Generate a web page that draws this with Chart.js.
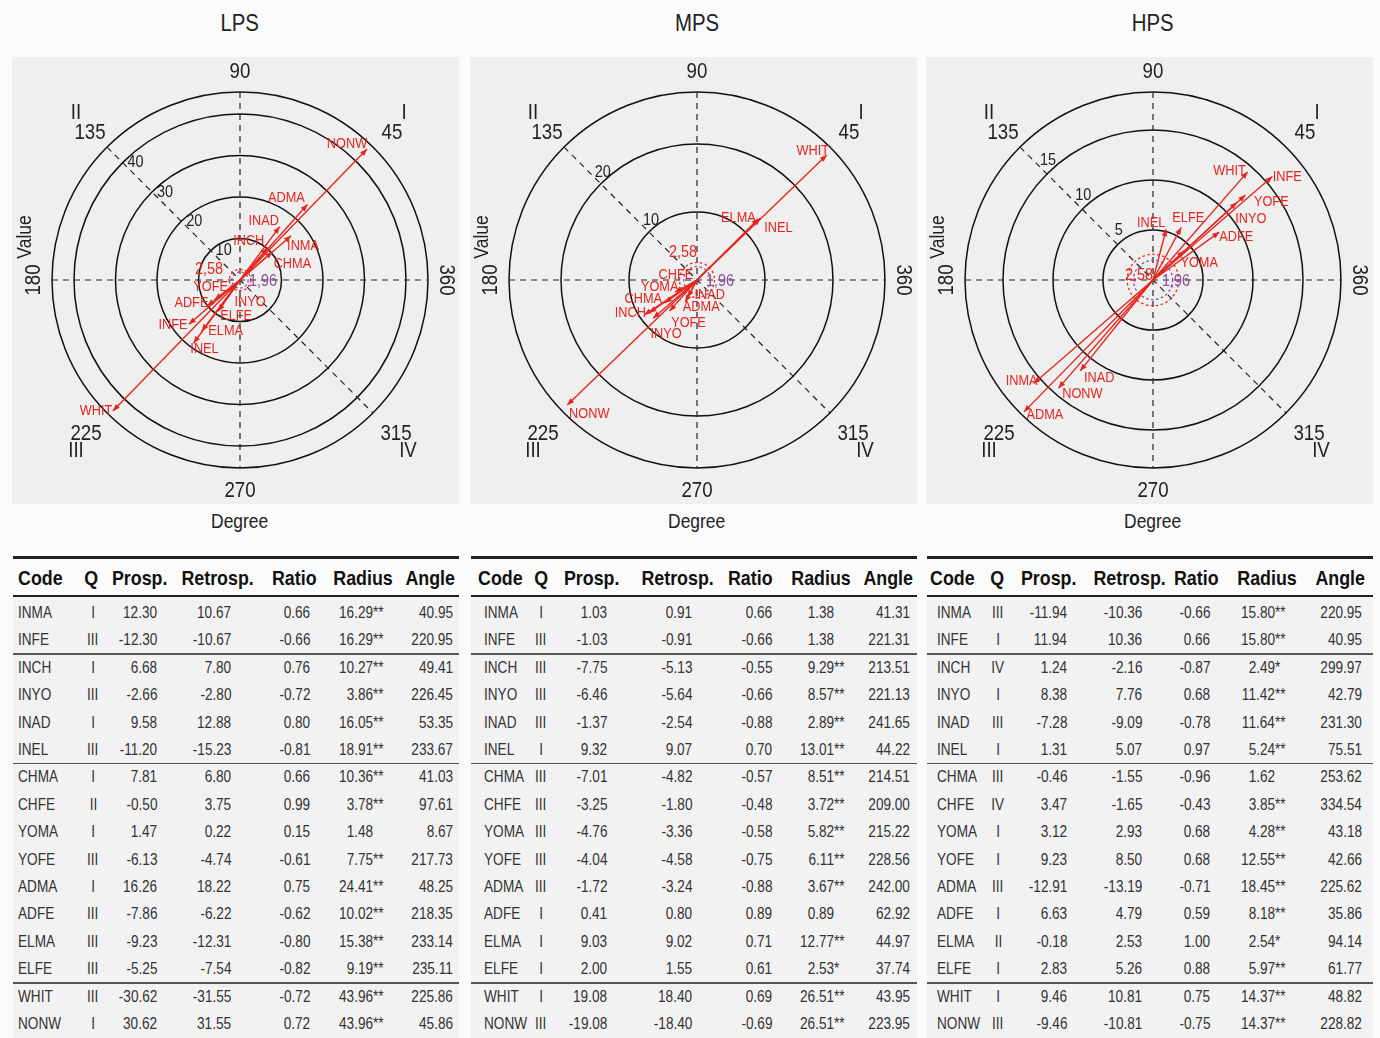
<!DOCTYPE html>
<html>
<head>
<meta charset="utf-8">
<script src="https://cdn.jsdelivr.net/npm/chart.js@4.4.1/dist/chart.umd.min.js"></script>
<style>
  html, body { margin: 0; padding: 0; background: #fbfbfb; }
  body { width: 1380px; height: 1038px; position: relative; overflow: hidden;
         font-family: 'Liberation Sans', Arial, sans-serif; color: #222; }
  .panel { position: absolute; top: 57px; width: 447px; height: 447px; background: #efefef; }
  .panel canvas { display: block; }
  .title { position: absolute; top: 9px; font-size: 24px; width: 200px; margin-left: -100px; text-align: center; }
  .xlab { position: absolute; top: 509px; font-size: 20.5px; width: 200px; margin-left: -100px; text-align: center; }
  .cell { position: absolute; height: 22px; line-height: 22px; white-space: nowrap; font-size: 16px; color: #333; }
  .hdr { font-weight: bold; font-size: 21px; color: #111; height: 26px; line-height: 26px; }
  .narrow { display: inline-block; transform: scaleX(0.85); }
  .rule { position: absolute; background: #222; }
  .band { position: absolute; background: #f2f2f2; }
</style>
</head>
<body>
<script>
// Row codes shared by the three tables
const codes = ['INMA','INFE','INCH','INYO','INAD','INEL','CHMA','CHFE','YOMA','YOFE','ADMA','ADFE','ELMA','ELFE','WHIT','NONW'];

// LPS
const lpsQuadrant = ['I','III','I','III','I','III','I','II','I','III','I','III','III','III','III','I'];
const lpsProsp    = [12.30,-12.30,6.68,-2.66,9.58,-11.20,7.81,-0.50,1.47,-6.13,16.26,-7.86,-9.23,-5.25,-30.62,30.62];
const lpsRetrosp  = [10.67,-10.67,7.80,-2.80,12.88,-15.23,6.80,3.75,0.22,-4.74,18.22,-6.22,-12.31,-7.54,-31.55,31.55];
const lpsRatio    = [0.66,-0.66,0.76,-0.72,0.80,-0.81,0.66,0.99,0.15,-0.61,0.75,-0.62,-0.80,-0.82,-0.72,0.72];
const lpsRadius   = [16.29,16.29,10.27,3.86,16.05,18.91,10.36,3.78,1.48,7.75,24.41,10.02,15.38,9.19,43.96,43.96];
const lpsAngle    = [40.95,220.95,49.41,226.45,53.35,233.67,41.03,97.61,8.67,217.73,48.25,218.35,233.14,235.11,225.86,45.86];
const lpsRings    = [10, 20, 30, 40];
const lpsLimit    = 45.3;

// MPS
const mpsQuadrant = ['I','III','III','III','III','I','III','III','III','III','III','I','I','I','I','III'];
const mpsProsp    = [1.03,-1.03,-7.75,-6.46,-1.37,9.32,-7.01,-3.25,-4.76,-4.04,-1.72,0.41,9.03,2.00,19.08,-19.08];
const mpsRetrosp  = [0.91,-0.91,-5.13,-5.64,-2.54,9.07,-4.82,-1.80,-3.36,-4.58,-3.24,0.80,9.02,1.55,18.40,-18.40];
const mpsRatio    = [0.66,-0.66,-0.55,-0.66,-0.88,0.70,-0.57,-0.48,-0.58,-0.75,-0.88,0.89,0.71,0.61,0.69,-0.69];
const mpsRadius   = [1.38,1.38,9.29,8.57,2.89,13.01,8.51,3.72,5.82,6.11,3.67,0.89,12.77,2.53,26.51,26.51];
const mpsAngle    = [41.31,221.31,213.51,221.13,241.65,44.22,214.51,209.00,215.22,228.56,242.00,62.92,44.97,37.74,43.95,223.95];
const mpsRings    = [10, 20];
const mpsLimit    = 27.65;

// HPS
const hpsQuadrant = ['III','I','IV','I','III','I','III','IV','I','I','III','I','II','I','I','III'];
const hpsProsp    = [-11.94,11.94,1.24,8.38,-7.28,1.31,-0.46,3.47,3.12,9.23,-12.91,6.63,-0.18,2.83,9.46,-9.46];
const hpsRetrosp  = [-10.36,10.36,-2.16,7.76,-9.09,5.07,-1.55,-1.65,2.93,8.50,-13.19,4.79,2.53,5.26,10.81,-10.81];
const hpsRatio    = [-0.66,0.66,-0.87,0.68,-0.78,0.97,-0.96,-0.43,0.68,0.68,-0.71,0.59,1.00,0.88,0.75,-0.75];
const hpsRadius   = [15.80,15.80,2.49,11.42,11.64,5.24,1.62,3.85,4.28,12.55,18.45,8.18,2.54,5.97,14.37,14.37];
const hpsAngle    = [220.95,40.95,299.97,42.79,231.30,75.51,253.62,334.54,43.18,42.66,225.62,35.86,94.14,61.77,48.82,228.82];
const hpsRings    = [5, 10, 15];
const hpsLimit    = 18.8;

// Significance thresholds (z values)
const zStrong = 2.58;
const zWeak = 1.96;

// Label nudges (px) from each arrow tip
const lpsNudge = {INMA:[12,10],INFE:[-16,1],INCH:[-19,-7],INYO:[21,10],INAD:[-16,-6],INEL:[11,6],CHMA:[20,12],
  YOFE:[-4,-13],ADMA:[-21,-7],ADFE:[-16,-3],ELMA:[24,0],ELFE:[18,5],WHIT:[-17,0],NONW:[-20,-5]};
const mpsNudge = {INCH:[-14,-2],INYO:[13,16],INAD:[22,-2],INEL:[18,10],CHMA:[-6,-14],CHFE:[1,-17],YOMA:[-5,-16],
  YOFE:[19,12],ADMA:[16,5],ELMA:[-20,-1],WHIT:[-14,-4],NONW:[22,9]};
const hpsNudge = {INMA:[-12,-3],INFE:[15,0],INYO:[14,16],INAD:[19,7],INEL:[-15,-6],YOMA:[15,12],YOFE:[26,7],
  ADMA:[21,3],ADFE:[17,5],ELFE:[7,-10],WHIT:[-18,-1],NONW:[24,6]};

const RED = '#e5261f';
const PURPLE = '#8a4f9e';
const FONT = "'Liberation Sans', Arial, sans-serif";
const SQUEEZE = 0.85;

// condensed text on the canvas
function narrowText(ctx, text, x, y, rot) {
  ctx.save();
  ctx.translate(x, y);
  if (rot) ctx.rotate(rot);
  ctx.scale(SQUEEZE, 1);
  ctx.fillText(text, 0, 0);
  ctx.restore();
}

const panels = [
  {name:'LPS', left:12, cxPage:240, q:lpsQuadrant, prosp:lpsProsp, retro:lpsRetrosp, ratio:lpsRatio, radius:lpsRadius, angle:lpsAngle,
   rings:lpsRings, limit:lpsLimit, nudge:lpsNudge, padLeft:28, ringLab:[13,0], z258:[-31,-11],
   hdr:[['l',18],['c',91],['c',140],['c',218],['c',294],['c',363],['c',430]],
   val:[['l',18],['c',93],['r',157],['r',231],['r',310],['r',373],['r',453]]},
  {name:'MPS', left:470, cxPage:697, q:mpsQuadrant, prosp:mpsProsp, retro:mpsRetrosp, ratio:mpsRatio, radius:mpsRadius, angle:mpsAngle,
   rings:mpsRings, limit:mpsLimit, nudge:mpsNudge, padLeft:27, ringLab:[2,-12], z258:[-14,-28],
   hdr:[['l',478],['c',541],['c',592],['c',678],['c',750],['c',821],['c',888]],
   val:[['l',484],['c',541],['r',607],['r',692],['r',772],['r',834],['r',910]]},
  {name:'HPS', left:926, cxPage:1153, q:hpsQuadrant, prosp:hpsProsp, retro:hpsRetrosp, ratio:hpsRatio, radius:hpsRadius, angle:hpsAngle,
   rings:hpsRings, limit:hpsLimit, nudge:hpsNudge, padLeft:27, ringLab:[1,-14], z258:[-14,-5],
   hdr:[['l',930],['c',997],['c',1049],['c',1130],['c',1196],['c',1267],['c',1340]],
   val:[['l',937],['c',998],['r',1067],['r',1142],['r',1210],['r',1275],['r',1362]]}
];

// Grid, axes, labels and arrowheads of the polar vector plot
const polarFrame = {
  id: 'polarFrame',
  beforeDatasetsDraw(chart, args, o) {
    const {ctx, scales: {x, y}} = chart;
    const cx = x.getPixelForValue(0), cy = y.getPixelForValue(0);
    const rp = v => x.getPixelForValue(v) - cx;
    const R = rp(o.limit);
    const d = R / Math.SQRT2;
    ctx.save();
    // solid rings
    ctx.strokeStyle = '#111'; ctx.lineWidth = 1.5;
    o.rings.concat([o.limit]).forEach(v => {
      ctx.beginPath(); ctx.arc(cx, cy, rp(v), 0, Math.PI * 2); ctx.stroke();
    });
    // dashed reference axes
    ctx.setLineDash([6, 5]); ctx.lineWidth = 1.2; ctx.strokeStyle = '#222';
    [[cx - R, cy, cx + R, cy], [cx, cy - R, cx, cy + R], [cx - d, cy - d, cx + d, cy + d]].forEach(s => {
      ctx.beginPath(); ctx.moveTo(s[0], s[1]); ctx.lineTo(s[2], s[3]); ctx.stroke();
    });
    // significance circles
    ctx.setLineDash([2.5, 2.5]); ctx.lineWidth = 1.3;
    ctx.strokeStyle = RED;
    ctx.beginPath(); ctx.arc(cx, cy, rp(zStrong), 0, Math.PI * 2); ctx.stroke();
    ctx.strokeStyle = PURPLE;
    ctx.beginPath(); ctx.arc(cx, cy, rp(zWeak), 0, Math.PI * 2); ctx.stroke();
    ctx.setLineDash([]);
    // ring values along the 135 degree diagonal
    ctx.fillStyle = '#222'; ctx.textAlign = 'center'; ctx.textBaseline = 'middle';
    ctx.font = '17px ' + FONT;
    o.rings.forEach(v => {
      const k = rp(v) / Math.SQRT2;
      narrowText(ctx, String(v), cx - k + o.ringLab[0], cy - k + o.ringLab[1]);
    });
    // angle and quadrant labels
    ctx.font = '22px ' + FONT;
    const marks = [['90',0,-208],['270',0,211],['135',-150,-147],['45',152,-147],['225',-154,154],['315',156,154],
                   ['II',-164,-167],['I',164,-167],['III',-164,171],['IV',168,171]];
    marks.forEach(m => narrowText(ctx, m[0], cx + m[1], cy + m[2]));
    narrowText(ctx, '180', cx - 206, cy, -Math.PI / 2);
    narrowText(ctx, '360', cx + 206, cy, Math.PI / 2);
    ctx.font = '20.5px ' + FONT;
    narrowText(ctx, 'Value', cx - 215, cy - 43, -Math.PI / 2);
    // threshold labels
    ctx.font = '17px ' + FONT;
    ctx.fillStyle = RED; narrowText(ctx, '2,58', cx + o.z258[0], cy + o.z258[1]);
    ctx.fillStyle = PURPLE; narrowText(ctx, '1,96', cx + 23, cy + 1);
    ctx.restore();
  },
  afterDatasetsDraw(chart, args, o) {
    const {ctx, scales: {x, y}} = chart;
    const cx = x.getPixelForValue(0), cy = y.getPixelForValue(0);
    ctx.save();
    ctx.fillStyle = RED; ctx.font = '15px ' + FONT; ctx.textAlign = 'center'; ctx.textBaseline = 'middle';
    chart.data.datasets.forEach((ds, i) => {
      const tip = chart.getDatasetMeta(i).data[1];
      const a = Math.atan2(tip.y - cy, tip.x - cx);
      const L = 7, W = 2.8;
      ctx.beginPath();
      ctx.moveTo(tip.x, tip.y);
      ctx.lineTo(tip.x - L * Math.cos(a) + W * Math.sin(a), tip.y - L * Math.sin(a) - W * Math.cos(a));
      ctx.lineTo(tip.x - L * Math.cos(a) - W * Math.sin(a), tip.y - L * Math.sin(a) + W * Math.cos(a));
      ctx.closePath(); ctx.fill();
      const n = o.nudge[ds.label] || [10, 0];
      narrowText(ctx, ds.label, tip.x + n[0], tip.y + n[1]);
    });
    ctx.restore();
  }
};

function addDiv(cls, text, css) {
  const el = document.createElement('div');
  el.className = cls;
  Object.assign(el.style, css);
  if (text !== null) {
    const sp = document.createElement('span');
    sp.className = 'narrow';
    sp.textContent = text;
    sp.style.transformOrigin = css.textAlign === 'center' ? 'center' : (css.right !== undefined ? 'right' : 'left');
    el.appendChild(sp);
  }
  document.body.appendChild(el);
  return el;
}

function placeCell(text, anchor, cy, cls, h) {
  const css = {top: (cy - h / 2) + 'px'};
  if (anchor[0] === 'l') css.left = anchor[1] + 'px';
  else if (anchor[0] === 'r') { css.right = (1380 - anchor[1]) + 'px'; css.textAlign = 'right'; }
  else { css.left = (anchor[1] - 100) + 'px'; css.width = '200px'; css.textAlign = 'center'; }
  return addDiv(cls, text, css);
}

const stars = v => v >= zStrong ? '**' : (v >= zWeak ? '*' : '');

panels.forEach(p => {
  // plot
  const box = addDiv('panel', null, {left: p.left + 'px'});
  const cv = document.createElement('canvas');
  cv.width = 447; cv.height = 447;
  box.appendChild(cv);
  addDiv('title', p.name, {left: p.cxPage + 'px', textAlign: 'center'});
  addDiv('xlab', 'Degree', {left: p.cxPage + 'px', textAlign: 'center'});

  const datasets = [];
  codes.forEach((c, i) => {
    const shown = (p.q[i] === 'I' || p.q[i] === 'III') && p.radius[i] >= zStrong;
    if (!shown) return;
    const t = p.angle[i] * Math.PI / 180;
    datasets.push({
      label: c,
      data: [{x: 0, y: 0}, {x: p.radius[i] * Math.cos(t), y: p.radius[i] * Math.sin(t)}],
      showLine: true, borderColor: RED, borderWidth: 1.4, pointRadius: 0, fill: false
    });
  });
  const span = p.limit * 200 / 188;
  new Chart(cv, {
    type: 'scatter',
    data: {datasets},
    options: {
      responsive: false, animation: false, events: [],
      layout: {padding: {left: p.padLeft, right: 447 - p.padLeft - 400, top: 23, bottom: 24}},
      scales: {
        x: {type: 'linear', min: -span, max: span, display: false},
        y: {type: 'linear', min: -span, max: span, display: false}
      },
      plugins: {legend: {display: false}, tooltip: {enabled: false},
                polarFrame: {rings: p.rings, limit: p.limit, nudge: p.nudge, ringLab: p.ringLab, z258: p.z258}}
    },
    plugins: [polarFrame]
  });

  // table
  const tl = p.left + 1, tw = 446;
  addDiv('band', null, {left: tl + 'px', width: tw + 'px', top: '597px', height: '441px'});
  addDiv('rule', null, {left: tl + 'px', width: tw + 'px', top: '556px', height: '3px'});
  addDiv('rule', null, {left: tl + 'px', width: tw + 'px', top: '595px', height: '2px'});
  const heads = ['Code', 'Q', 'Prosp.', 'Retrosp.', 'Ratio', 'Radius', 'Angle'];
  heads.forEach((h, j) => placeCell(h, p.hdr[j], 578, 'cell hdr', 26));
  codes.forEach((c, i) => {
    const cy = 613 + i * 27.4;
    placeCell(c, p.val[0], cy, 'cell', 22);
    placeCell(p.q[i], p.val[1], cy, 'cell', 22);
    placeCell(p.prosp[i].toFixed(2), p.val[2], cy, 'cell', 22);
    placeCell(p.retro[i].toFixed(2), p.val[3], cy, 'cell', 22);
    placeCell(p.ratio[i].toFixed(2), p.val[4], cy, 'cell', 22);
    placeCell(p.radius[i].toFixed(2), p.val[5], cy, 'cell', 22);
    const s = stars(p.radius[i]);
    if (s) placeCell(s, ['l', p.val[5][1]], cy, 'cell', 22);
    placeCell(p.angle[i].toFixed(2), p.val[6], cy, 'cell', 22);
  });
  [1, 5, 13].forEach(k => {
    const yy = 613 + (k + 0.5) * 27.4;
    addDiv('rule', null, {left: tl + 'px', width: tw + 'px', top: (yy - 0.75) + 'px', height: '1.5px', background: '#555'});
  });
});
</script>
</body>
</html>
